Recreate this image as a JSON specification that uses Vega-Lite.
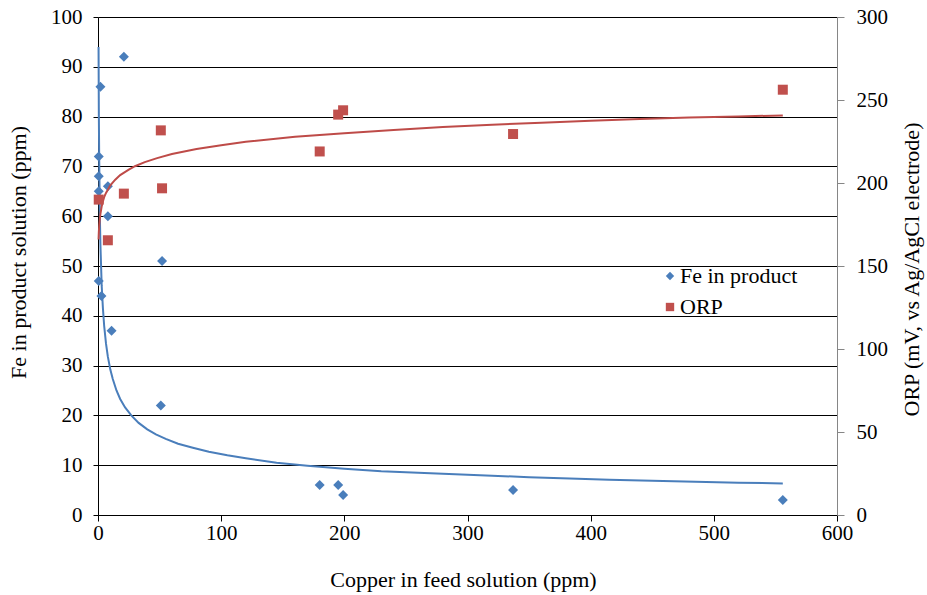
{
  "$schema": "https://vega.github.io/schema/vega-lite/v6.json",
  "width": 739,
  "height": 498,
  "autosize": {"type": "none"},
  "padding": {"left": 98, "top": 17, "right": 90, "bottom": 80},
  "background": "white",
  "config": {
    "view": {"stroke": null},
    "font": "Liberation Serif",
    "axis": {
      "labelFont": "Liberation Serif",
      "titleFont": "Liberation Serif",
      "labelFontSize": 21,
      "labelColor": "#000000",
      "titleFontSize": 22,
      "titleFontWeight": "normal",
      "titleColor": "#000000",
      "tickColor": "#000000",
      "domainColor": "#000000",
      "tickSize": 5
    },
    "legend": {
      "labelFont": "Liberation Serif",
      "labelFontSize": 22,
      "labelColor": "#000000"
    }
  },
  "datasets": {
    "fePoints": [
      {"cu": 21, "fe": 92, "series": "Fe in product"},
      {"cu": 2, "fe": 86, "series": "Fe in product"},
      {"cu": 0.6, "fe": 72, "series": "Fe in product"},
      {"cu": 0.6, "fe": 68, "series": "Fe in product"},
      {"cu": 0.6, "fe": 65, "series": "Fe in product"},
      {"cu": 8, "fe": 66, "series": "Fe in product"},
      {"cu": 8, "fe": 60, "series": "Fe in product"},
      {"cu": 52, "fe": 51, "series": "Fe in product"},
      {"cu": 0.6, "fe": 47, "series": "Fe in product"},
      {"cu": 2.8, "fe": 44, "series": "Fe in product"},
      {"cu": 11, "fe": 37, "series": "Fe in product"},
      {"cu": 51, "fe": 22, "series": "Fe in product"},
      {"cu": 180, "fe": 6, "series": "Fe in product"},
      {"cu": 195, "fe": 6, "series": "Fe in product"},
      {"cu": 199, "fe": 4, "series": "Fe in product"},
      {"cu": 337, "fe": 5, "series": "Fe in product"},
      {"cu": 556, "fe": 3, "series": "Fe in product"}
    ],
    "orpPoints": [
      {"cu": 0.6, "orp": 190, "series": "ORP"},
      {"cu": 8, "orp": 165.5, "series": "ORP"},
      {"cu": 21, "orp": 193.6, "series": "ORP"},
      {"cu": 51, "orp": 231.7, "series": "ORP"},
      {"cu": 52, "orp": 196.8, "series": "ORP"},
      {"cu": 180, "orp": 219, "series": "ORP"},
      {"cu": 195, "orp": 241.2, "series": "ORP"},
      {"cu": 199, "orp": 243.8, "series": "ORP"},
      {"cu": 337, "orp": 229.5, "series": "ORP"},
      {"cu": 556, "orp": 256.2, "series": "ORP"}
    ],
    "feTrend": [
      {"cu": 0.45, "fe": 94},
      {"cu": 0.7, "fe": 80},
      {"cu": 1, "fe": 71},
      {"cu": 1.5, "fe": 60},
      {"cu": 2, "fe": 54},
      {"cu": 3, "fe": 46},
      {"cu": 4, "fe": 41.5},
      {"cu": 5, "fe": 38},
      {"cu": 6.5, "fe": 34.4},
      {"cu": 8, "fe": 31.8},
      {"cu": 10, "fe": 29.2},
      {"cu": 12, "fe": 27.3},
      {"cu": 15, "fe": 25},
      {"cu": 18, "fe": 23.3},
      {"cu": 22, "fe": 21.6},
      {"cu": 27, "fe": 20},
      {"cu": 33, "fe": 18.5},
      {"cu": 40, "fe": 17.2},
      {"cu": 47, "fe": 16.2},
      {"cu": 55, "fe": 15.3},
      {"cu": 65, "fe": 14.3},
      {"cu": 77, "fe": 13.5},
      {"cu": 90, "fe": 12.7},
      {"cu": 105, "fe": 12},
      {"cu": 120, "fe": 11.4},
      {"cu": 145, "fe": 10.5},
      {"cu": 170, "fe": 9.9},
      {"cu": 200, "fe": 9.3},
      {"cu": 230, "fe": 8.8},
      {"cu": 260, "fe": 8.5},
      {"cu": 290, "fe": 8.2},
      {"cu": 320, "fe": 7.9},
      {"cu": 350, "fe": 7.6},
      {"cu": 383, "fe": 7.35},
      {"cu": 415, "fe": 7.1},
      {"cu": 450, "fe": 6.9},
      {"cu": 485, "fe": 6.7},
      {"cu": 520, "fe": 6.5},
      {"cu": 556, "fe": 6.35}
    ],
    "orpTrend": [
      {"cu": 0.45, "orp": 166},
      {"cu": 0.7, "orp": 170.7},
      {"cu": 1, "orp": 174.5},
      {"cu": 1.5, "orp": 178.7},
      {"cu": 2, "orp": 181.5},
      {"cu": 3, "orp": 186},
      {"cu": 4, "orp": 189},
      {"cu": 5, "orp": 191.5},
      {"cu": 6.5, "orp": 194},
      {"cu": 8, "orp": 196},
      {"cu": 10, "orp": 198.6},
      {"cu": 14, "orp": 202},
      {"cu": 18, "orp": 204.8},
      {"cu": 25, "orp": 208},
      {"cu": 30, "orp": 210.1},
      {"cu": 38, "orp": 212.6},
      {"cu": 48, "orp": 215},
      {"cu": 60, "orp": 217.5},
      {"cu": 80, "orp": 220.5},
      {"cu": 100, "orp": 222.7},
      {"cu": 120, "orp": 224.8},
      {"cu": 160, "orp": 227.8},
      {"cu": 200, "orp": 230},
      {"cu": 240, "orp": 232},
      {"cu": 280, "orp": 233.7},
      {"cu": 320, "orp": 235.1},
      {"cu": 360, "orp": 236.3},
      {"cu": 400, "orp": 237.5},
      {"cu": 440, "orp": 238.5},
      {"cu": 480, "orp": 239.4},
      {"cu": 520, "orp": 240.1},
      {"cu": 556, "orp": 240.7}
    ]
  },
  "encoding": {
    "x": {
      "field": "cu",
      "type": "quantitative",
      "scale": {"domain": [0, 600], "nice": false, "zero": false},
      "axis": {
        "values": [0, 100, 200, 300, 400, 500, 600],
        "grid": false,
        "tickSize": 6,
        "labelPadding": 1,
        "labelFlush": false,
        "title": "Copper in feed solution (ppm)",
        "titleX": 365,
        "titleY": 64,
        "titleBaseline": "middle",
        "titleAlign": "center"
      }
    }
  },
  "layer": [
    {
      "layer": [
        {
          "data": {"name": "feTrend"},
          "mark": {"type": "line", "color": "#4A7EBB", "strokeWidth": 2},
          "encoding": {
            "y": {
              "field": "fe",
              "type": "quantitative",
              "scale": {"domain": [0, 100], "nice": false},
              "axis": {
                "orient": "left",
                "values": [0, 10, 20, 30, 40, 50, 60, 70, 80, 90, 100],
                "grid": true,
                "gridColor": "#000000",
                "gridWidth": 1,
                "labelPadding": 11,
                "title": "Fe in product solution (ppm)",
                "titleX": -80,
                "titleY": 235,
                "titleAngle": 270,
                "titleAlign": "center",
                "titleBaseline": "middle"
              }
            }
          }
        },
        {
          "data": {"name": "fePoints"},
          "mark": {"type": "point", "filled": true, "opacity": 1, "size": 100, "clip": false},
          "encoding": {
            "y": {"field": "fe", "type": "quantitative"},
            "color": {
              "field": "series",
              "type": "nominal",
              "scale": {"domain": ["Fe in product", "ORP"], "range": ["#4A7EBB", "#C0504D"]},
              "legend": {
                "title": null,
                "orient": "none",
                "legendX": 561,
                "legendY": 248,
                "symbolSize": 70,
                "rowPadding": 9,
                "labelOffset": -1
              }
            },
            "shape": {
              "field": "series",
              "type": "nominal",
              "scale": {"domain": ["Fe in product", "ORP"], "range": ["diamond", "square"]},
              "legend": {
                "title": null,
                "orient": "none",
                "legendX": 561,
                "legendY": 248,
                "symbolSize": 70,
                "rowPadding": 9,
                "labelOffset": -1
              }
            }
          }
        }
      ]
    },
    {
      "layer": [
        {
          "data": {"name": "orpTrend"},
          "mark": {"type": "line", "color": "#BE4B48", "strokeWidth": 2},
          "encoding": {
            "y": {
              "field": "orp",
              "type": "quantitative",
              "scale": {"domain": [0, 300], "nice": false},
              "axis": {
                "orient": "right",
                "values": [0, 50, 100, 150, 200, 250, 300],
                "grid": false,
                "domainColor": "#868686",
                "tickColor": "#868686",
                "tickSize": 7,
                "labelPadding": 12,
                "title": "ORP (mV, vs Ag/AgCl  electrode)",
                "titleX": 74,
                "titleY": 252,
                "titleAngle": 270,
                "titleAlign": "center",
                "titleBaseline": "middle"
              }
            }
          }
        },
        {
          "data": {"name": "orpPoints"},
          "mark": {"type": "point", "filled": true, "opacity": 1, "size": 100, "clip": false},
          "encoding": {
            "y": {"field": "orp", "type": "quantitative"},
            "color": {"field": "series", "type": "nominal"},
            "shape": {"field": "series", "type": "nominal"}
          }
        }
      ]
    }
  ],
  "resolve": {"scale": {"y": "independent"}, "axis": {"y": "independent"}}
}
